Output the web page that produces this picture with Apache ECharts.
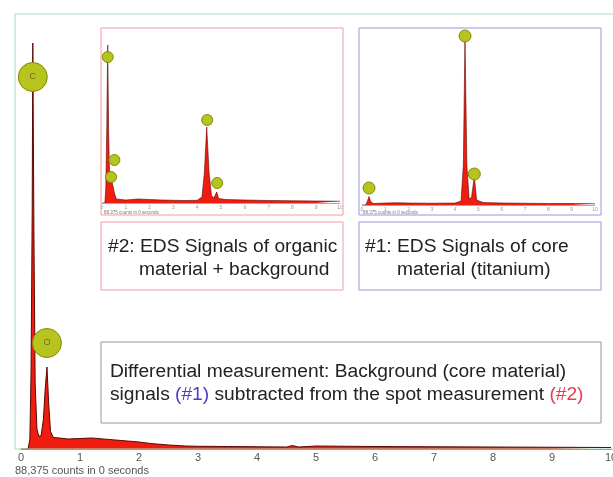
<!DOCTYPE html>
<html>
<head>
<meta charset="utf-8">
<title>EDS spectrum</title>
<script src="https://cdn.jsdelivr.net/npm/echarts@6/dist/echarts.min.js"></script>
<style>
  html, body { margin: 0; padding: 0; background: #fff; }
  #chart { width: 613px; height: 477px; }
</style>
</head>
<body>
<div id="chart"></div>
<script>
// main spectrum (differential measurement), energy in keV / counts
var mainEnergy = [0, 0.12, 0.15, 0.17, 0.19, 0.20, 0.22, 0.24, 0.27, 0.30, 0.34, 0.38, 0.41, 0.44, 0.47, 0.50, 0.55, 0.65, 0.8, 1.0, 1.2, 1.4, 1.6, 1.8, 2.0, 2.2, 2.5, 2.8, 3.0, 3.5, 4.0, 4.5, 4.6, 4.7, 5.0, 5.5, 6.0, 7.0, 8.0, 9.0, 10];
var mainCounts = [0, 0, 200, 1500, 4800, 8120, 4200, 1300, 400, 260, 260, 600, 1200, 1640, 900, 350, 230, 220, 200, 210, 220, 200, 180, 160, 140, 110, 80, 60, 55, 50, 45, 40, 70, 40, 60, 55, 50, 45, 40, 35, 30];
var mainPeakNames = ['C', 'O'];
var mainPeakEnergy = [0.20, 0.44];
var mainPeakCounts = [7440, 2120];

// inset #2: organic material + background
var orgEnergy = [0, 0.12, 0.16, 0.20, 0.24, 0.28, 0.32, 0.36, 0.40, 0.44, 0.48, 0.52, 0.6, 1.0, 1.5, 2.0, 2.5, 3.0, 3.5, 4.0, 4.2, 4.3, 4.4, 4.5, 4.6, 4.7, 4.82, 4.9, 5.2, 6, 7, 8, 9, 10];
var orgCounts = [0, 0, 300, 1500, 3160, 1400, 500, 400, 520, 380, 300, 200, 80, 60, 80, 70, 60, 55, 50, 55, 120, 600, 1520, 600, 150, 100, 220, 90, 70, 60, 50, 45, 40, 35];
var orgPeakNames = ['C', 'O', 'N', 'Ti', 'Ti'];
var orgPeakEnergy = [0.24, 0.38, 0.52, 4.42, 4.84];
var orgPeakCounts = [2920, 520, 860, 1660, 400];

// inset #1: core material (titanium)
var tiEnergy = [0, 0.15, 0.22, 0.30, 0.38, 0.5, 1.0, 1.5, 2.0, 3.0, 4.0, 4.25, 4.35, 4.42, 4.5, 4.6, 4.7, 4.82, 4.92, 5.2, 6, 7, 8, 9, 10];
var tiCounts = [0, 0, 60, 170, 60, 30, 40, 45, 40, 35, 40, 80, 800, 3360, 800, 120, 150, 570, 100, 50, 40, 35, 30, 30, 25];
var tiPeakNames = ['C', 'Ti', 'Ti'];
var tiPeakEnergy = [0.30, 4.42, 4.82];
var tiPeakCounts = [340, 3380, 620];

var FONT = 'Liberation Sans, Arial, sans-serif';
var TS = 19.2; // caption font size
var myChart = echarts.init(document.getElementById('chart'));

function zip(a, b) {
  return a.map(function (v, i) { return [v, b[i]]; });
}

function spectrum(idx, energy, counts, lw) {
  return {
    type: 'line',
    xAxisIndex: idx,
    yAxisIndex: idx,
    data: zip(energy, counts),
    showSymbol: false,
    silent: true,
    lineStyle: { color: '#5a0a05', width: lw },
    areaStyle: { color: '#ee1d0f', opacity: 1 },
    z: 2
  };
}

function markers(idx, names, energy, counts, size, fs) {
  return {
    type: 'scatter',
    xAxisIndex: idx,
    yAxisIndex: idx,
    data: zip(energy, counts),
    symbolSize: size,
    silent: true,
    itemStyle: { color: '#b7c41d', borderColor: '#7e8c0e', borderWidth: 1, opacity: 1 },
    label: {
      show: fs > 0,
      position: 'inside',
      formatter: function (p) { return names[p.dataIndex]; },
      color: '#6b6a3a',
      fontSize: fs,
      fontFamily: FONT
    },
    z: 3
  };
}

function xAx(idx, fs, color, lineColor) {
  return {
    gridIndex: idx,
    type: 'value',
    min: 0,
    max: 10,
    interval: 1,
    axisLine: { lineStyle: { color: lineColor, width: 1 } },
    axisTick: { show: false },
    splitLine: { show: false },
    axisLabel: { color: color, fontSize: fs, margin: fs > 6 ? 3 : 2, fontFamily: FONT }
  };
}

function yAx(idx, max) {
  return { gridIndex: idx, type: 'value', min: 0, max: max, show: false, splitLine: { show: false } };
}

function txt(x, y, text, size, extra) {
  var s = { text: text, x: x, y: y, fill: '#222', font: size + 'px ' + FONT, textVerticalAlign: 'middle' };
  if (extra) { for (var k in extra) s[k] = extra[k]; }
  return { type: 'text', style: s, z: 10 };
}

function box(x, y, w, h, color) {
  return { type: 'rect', shape: { x: x, y: y, width: w, height: h }, style: { fill: 'none', stroke: color, lineWidth: 1 }, z: 10 };
}

var option = {
  backgroundColor: '#ffffff',
  animation: false,
  grid: [
    { left: 21, right: 2, top: 14, bottom: 28, outerBoundsMode: 'none' },
    { left: 102, right: 273, top: 29, bottom: 274, outerBoundsMode: 'none' },
    { left: 362, right: 18, top: 30, bottom: 272, outerBoundsMode: 'none' }
  ],
  xAxis: [
    xAx(0, 11, '#555', '#777'),
    xAx(1, 5, '#999', '#aaa'),
    xAx(2, 5, '#999', '#aaa')
  ],
  yAxis: [yAx(0, 8700), yAx(1, 3480), yAx(2, 3500)],
  series: [
    spectrum(0, mainEnergy, mainCounts, 1),
    markers(0, mainPeakNames, mainPeakEnergy, mainPeakCounts, [29, 29], 9),
    spectrum(1, orgEnergy, orgCounts, 0.6),
    markers(1, orgPeakNames, orgPeakEnergy, orgPeakCounts, [11, 11], 0),
    spectrum(2, tiEnergy, tiCounts, 0.6),
    markers(2, tiPeakNames, tiPeakEnergy, tiPeakCounts, [12, 12], 0)
  ],
  graphic: [
    box(15, 14, 640, 435, '#a9d9b9'),
    box(101, 28, 242, 187, '#f29aa2'),
    box(359, 28, 242, 187, '#9a94e0'),
    txt(104, 213, '88,375 counts in 0 seconds', 4.5, { fill: '#777' }),
    txt(363, 213, '88,375 counts in 0 seconds', 4.5, { fill: '#777' }),
    txt(15, 471, '88,375 counts in 0 seconds', 11, { fill: '#555' }),

    box(101, 222, 242, 68, '#f29aa2'),
    txt(108, 247, '#2: EDS Signals of organic', TS),
    txt(139, 270, 'material + background', TS),

    box(359, 222, 242, 68, '#9a94e0'),
    txt(365, 247, '#1: EDS Signals of core', TS),
    txt(397, 270, 'material (titanium)', TS),

    box(101, 342, 500, 81, '#8f9a94'),
    txt(110, 372, 'Differential measurement: Background (core material)', TS),
    txt(110, 395, '{t|signals }{b|(#1)}{t| subtracted from the spot measurement }{r|(#2)}', TS, {
      rich: {
        t: { fill: '#222', font: TS + 'px ' + FONT },
        b: { fill: '#4a3cc4', font: TS + 'px ' + FONT },
        r: { fill: '#e83a55', font: TS + 'px ' + FONT }
      }
    })
  ]
};

myChart.setOption(option);
</script>
</body>
</html>
